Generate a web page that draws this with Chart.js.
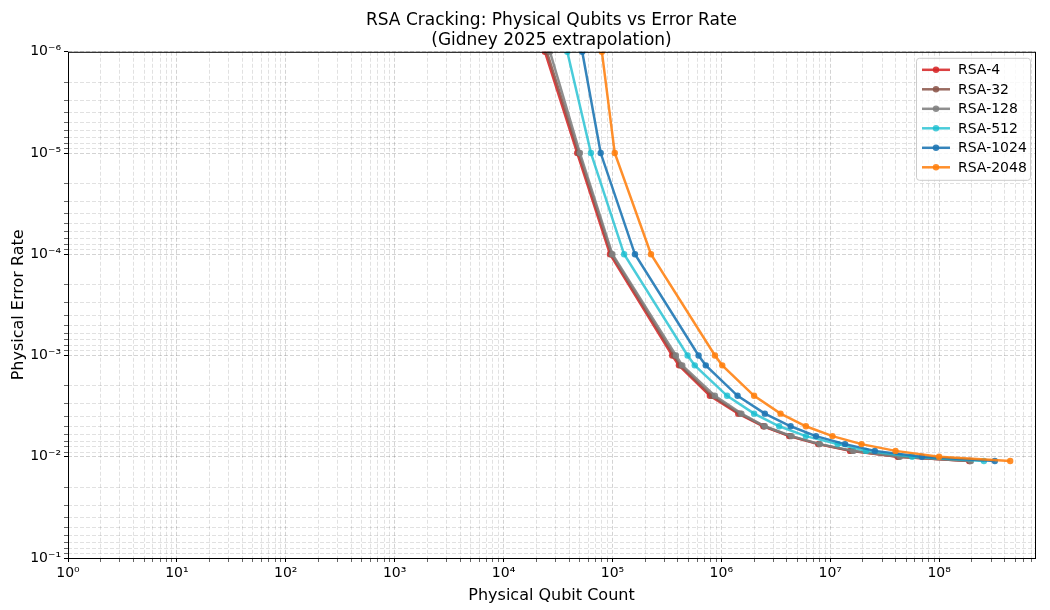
<!DOCTYPE html>
<html>
<head>
<meta charset="utf-8">
<script src="https://cdn.jsdelivr.net/npm/chart.js@4.4.1/dist/chart.umd.min.js"></script>
<style>
  html, body { margin: 0; padding: 0; background: #ffffff; }
  #wrap { width: 1050px; height: 610px; }
</style>
</head>
<body>
<div id="wrap"><canvas id="rsachart"></canvas></div>
<script>
// Physical error rates (y values), shared by every RSA size
var errorRates = [1e-6, 1e-5, 1e-4, 1e-3, 1.25e-3, 2.5e-3, 3.75e-3, 5e-3, 6.25e-3, 7.5e-3, 8.75e-3, 1e-2, 1.1e-2];

// Physical qubit counts, one per error rate
var rsa4    = [2.40e4, 4.75e4, 9.5e4, 3.54e5, 4.08e5, 7.85e5, 1.43e6, 2.43e6, 4.2e6, 7.76e6, 1.52e7, 4.16e7, 1.89e8];
var rsa32   = [2.50e4, 4.90e4, 9.8e4, 3.68e5, 4.22e5, 8.20e5, 1.48e6, 2.47e6, 4.3e6, 7.90e6, 1.57e7, 4.25e7, 1.92e8];
var rsa128  = [2.67e4, 5.03e4, 1.0e5, 3.83e5, 4.38e5, 8.73e5, 1.53e6, 2.51e6, 4.42e6, 8.04e6, 1.63e7, 4.37e7, 1.96e8];
var rsa512  = [3.85e4, 6.35e4, 1.28e5, 4.90e5, 5.70e5, 1.13e6, 2.00e6, 3.40e6, 5.98e6, 1.17e7, 2.13e7, 5.66e7, 2.58e8];
var rsa1024 = [5.28e4, 7.80e4, 1.61e5, 6.18e5, 7.20e5, 1.41e6, 2.51e6, 4.33e6, 7.40e6, 1.37e7, 2.57e7, 6.95e7, 3.25e8];
var rsa2048 = [8.0e4, 1.05e5, 2.26e5, 8.74e5, 1.02e6, 2.00e6, 3.50e6, 5.98e6, 1.05e7, 1.94e7, 3.98e7, 1.0e8, 4.5e8];

var seriesNames = ["RSA-4", "RSA-32", "RSA-128", "RSA-512", "RSA-1024", "RSA-2048"];
var seriesValues = [rsa4, rsa32, rsa128, rsa512, rsa1024, rsa2048];
var seriesColors = ["rgba(214,39,40,0.88)", "rgba(140,86,75,0.88)", "rgba(127,127,127,0.88)",
                    "rgba(23,190,207,0.78)", "rgba(31,119,180,0.9)", "rgba(255,127,14,0.88)"];

// Tick labels at the powers of ten
var xTickLabels = ["10\u2070", "10\u00b9", "10\u00b2", "10\u00b3", "10\u2074", "10\u2075", "10\u2076", "10\u2077", "10\u2078"];
var yTickLabels = ["10\u207b\u2076", "10\u207b\u2075", "10\u207b\u2074", "10\u207b\u00b3", "10\u207b\u00b2", "10\u207b\u00b9"];

var fontFamily = "'DejaVu Sans', sans-serif";

// Build the datasets from the arrays above
var datasets = seriesNames.map(function(name, i) {
  return {
    label: name,
    data: seriesValues[i].map(function(q, j) { return { x: q, y: errorRates[j] }; }),
    borderColor: seriesColors[i],
    backgroundColor: seriesColors[i],
    pointBackgroundColor: seriesColors[i],
    pointBorderWidth: 0,
    pointRadius: 3.2,
    borderWidth: 2.5,
    tension: 0,
    order: seriesNames.length - i // later series drawn on top
  };
});

function isDecade(v) {
  var k = Math.round(Math.log10(v));
  return Math.abs(v / Math.pow(10, k) - 1) < 1e-9;
}

// 1..9 x 10^n ticks between min and max
function logTicks(scale) {
  var ticks = [];
  var lo = Math.floor(Math.log10(scale.min));
  var hi = Math.ceil(Math.log10(scale.max));
  for (var e = lo; e <= hi; e++) {
    for (var m = 1; m < 10; m++) {
      var v = m * Math.pow(10, e);
      if (v >= scale.min * 0.999999 && v <= scale.max * 1.000001) {
        ticks.push({ value: v, major: m === 1 });
      }
    }
  }
  scale.ticks = ticks;
}

function gridColor(ctx) {
  if (ctx.tick && isDecade(ctx.tick.value)) return "rgba(0,0,0,0.22)";
  return "rgba(0,0,0,0.15)";
}

// frame round the plot and the legend box
var framePlugin = {
  id: "frame",
  afterDraw: function(chart) {
    var ctx = chart.ctx;
    var a = chart.chartArea;
    ctx.save();
    ctx.strokeStyle = "#000";
    ctx.lineWidth = 1;
    ctx.setLineDash([]);
    ctx.strokeRect(a.left + 0.5, a.top + 0.5, a.right - a.left, a.bottom - a.top);

    // legend
    var boxW = 114, rowH = 19.5;
    var n = chart.data.datasets.length;
    var boxH = n * rowH + 5;
    var bx = a.right - boxW - 5, by = a.top + 6;
    ctx.fillStyle = "rgba(255,255,255,0.8)";
    ctx.strokeStyle = "#cccccc";
    ctx.beginPath();
    ctx.roundRect(bx + 0.5, by + 0.5, boxW, boxH, 3);
    ctx.fill();
    ctx.stroke();
    ctx.font = "14px " + fontFamily;
    ctx.textBaseline = "middle";
    ctx.textAlign = "left";
    chart.data.datasets.forEach(function(ds, i) {
      var yy = by + 12 + i * rowH;
      ctx.strokeStyle = ds.borderColor;
      ctx.lineWidth = 2.5;
      ctx.beginPath();
      ctx.moveTo(bx + 6, yy);
      ctx.lineTo(bx + 34, yy);
      ctx.stroke();
      ctx.fillStyle = ds.borderColor;
      ctx.beginPath();
      ctx.arc(bx + 20, yy, 3.2, 0, Math.PI * 2);
      ctx.fill();
      ctx.fillStyle = "#000";
      ctx.fillText(ds.label, bx + 42, yy + 1);
    });
    ctx.restore();
  }
};

var ctx = document.getElementById("rsachart").getContext("2d");

var rsaChart = new Chart(ctx, {
  type: "line",
  data: { datasets: datasets },
  plugins: [framePlugin],
  options: {
    responsive: true,
    maintainAspectRatio: false,
    animation: false,
    layout: { padding: { left: 0, right: 15, top: 0, bottom: 0 } },
    plugins: {
      legend: { display: false },
      tooltip: { enabled: false },
      title: {
        display: true,
        fullSize: false, // centre over the plot area like the original
        text: ["RSA Cracking: Physical Qubits vs Error Rate", "(Gidney 2025 extrapolation)"],
        color: "#000",
        font: { family: fontFamily, size: 17, weight: "normal", lineHeight: 1.2 },
        padding: { top: 10, bottom: 1 }
      }
    },
    scales: {
      x: {
        type: "logarithmic",
        min: 1,
        max: 7.6e8,
        afterBuildTicks: logTicks,
        afterFit: function(scale) { scale.height = 52; },
        border: { display: false, dash: [4, 2] },
        grid: {
          color: gridColor,
          lineWidth: 0.8,
          drawTicks: true,
          tickLength: 4,
          tickColor: "#000",
          tickWidth: function(c) { return c.tick && isDecade(c.tick.value) ? 1 : 0.6; }
        },
        ticks: {
          autoSkip: false,
          maxRotation: 0,
          padding: 3,
          color: "#000",
          font: { family: fontFamily, size: 14 },
          callback: function(v) {
            if (!isDecade(v)) return "";
            return xTickLabels[Math.round(Math.log10(v))] || "";
          }
        },
        title: {
          display: true,
          text: "Physical Qubit Count",
          color: "#000",
          font: { family: fontFamily, size: 16 },
          padding: { top: 4, bottom: 5 }
        }
      },
      y: {
        type: "logarithmic",
        reverse: true,
        min: 1e-6,
        max: 1e-1,
        afterBuildTicks: logTicks,
        afterFit: function(scale) { scale.width = 68; },
        border: { display: false, dash: [4, 2] },
        grid: {
          color: gridColor,
          lineWidth: 0.8,
          drawTicks: true,
          tickLength: 4,
          tickColor: "#000",
          tickWidth: function(c) { return c.tick && isDecade(c.tick.value) ? 1 : 0.6; }
        },
        ticks: {
          autoSkip: false,
          padding: 3,
          color: "#000",
          font: { family: fontFamily, size: 14 },
          callback: function(v) {
            if (!isDecade(v)) return "";
            return yTickLabels[Math.round(Math.log10(v)) + 6] || "";
          }
        },
        title: {
          display: true,
          text: "Physical Error Rate",
          color: "#000",
          font: { family: fontFamily, size: 16 },
          padding: { top: 9, bottom: 4 }
        }
      }
    }
  }
});
</script>
</body>
</html>
